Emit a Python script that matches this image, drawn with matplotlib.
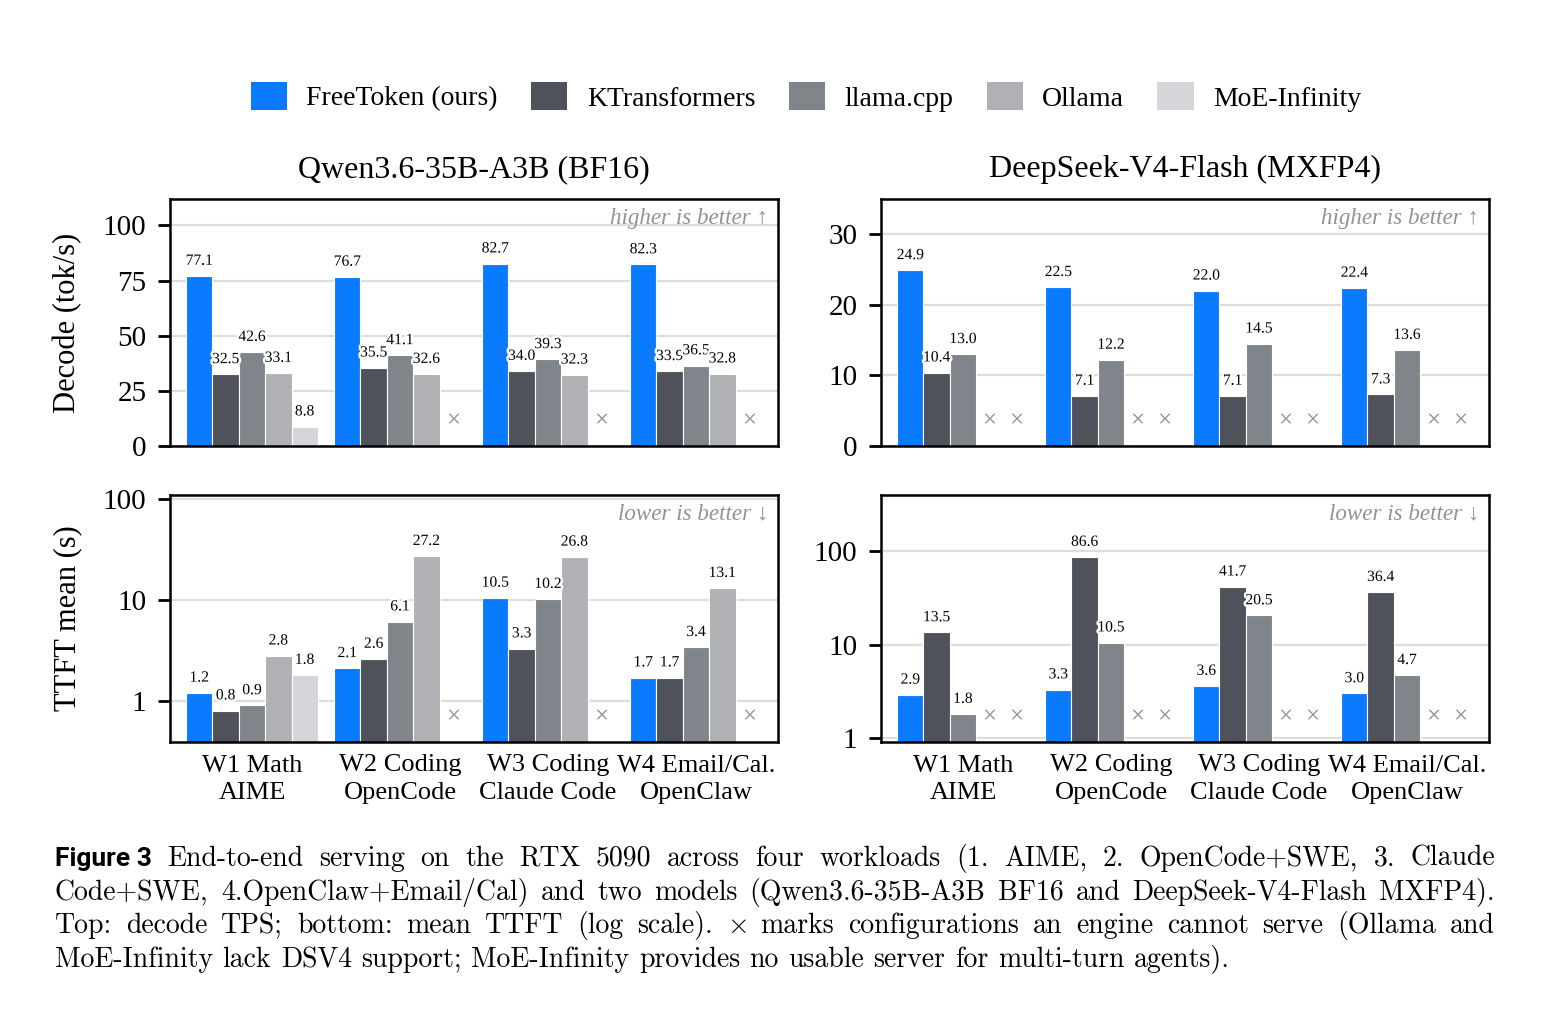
import numpy as np
import matplotlib.pyplot as plt
import matplotlib.transforms as mtrans
from matplotlib import patheffects
from matplotlib.patches import Patch

plt.rcParams['font.family'] = ['Liberation Serif', 'DejaVu Serif']
plt.rcParams['mathtext.fontset'] = 'cm'

engines = ['FreeToken (ours)', 'KTransformers', 'llama.cpp', 'Ollama', 'MoE-Infinity']
colors = ['#0A7AFF', '#4F525A', '#80848B', '#AFB1B5', '#D5D6DA']
workloads = ['W1 Math\nAIME', 'W2 Coding\nOpenCode', 'W3 Coding\nClaude Code', 'W4 Email/Cal.\nOpenClaw']

# one row per workload, one value per engine; None = engine cannot serve (x mark)
qwen_decode = [[77.1, 32.5, 42.6, 33.1, 8.8],
               [76.7, 35.5, 41.1, 32.6, None],
               [82.7, 34.0, 39.3, 32.3, None],
               [82.3, 33.9, 36.5, 32.8, None]]
dsv4_decode = [[24.9, 10.4, 13.0, None, None],
               [22.5, 7.1, 12.2, None, None],
               [22.0, 7.1, 14.5, None, None],
               [22.4, 7.3, 13.6, None, None]]
qwen_ttft = [[1.2, 0.8, 0.9, 2.8, 1.8],
             [2.1, 2.6, 6.1, 27.2, None],
             [10.5, 3.3, 10.2, 26.8, None],
             [1.7, 1.7, 3.4, 13.1, None]]
dsv4_ttft = [[2.9, 13.5, 1.8, None, None],
             [3.3, 86.6, 10.5, None, None],
             [3.6, 41.7, 20.5, None, None],
             [3.0, 36.4, 4.7, None, None]]

W, H = 1543, 1009
fig = plt.figure(figsize=(W / 200, H / 200), dpi=200)

ax_l, ax_r, ax_w = 170 / W, 881 / W, 608 / W
ax_h = 247 / H
axes = {
    'qd': fig.add_axes([ax_l, 1 - 446 / H, ax_w, ax_h]),
    'dd': fig.add_axes([ax_r, 1 - 446 / H, ax_w, ax_h]),
    'qt': fig.add_axes([ax_l, 1 - 742 / H, ax_w, ax_h]),
    'dt': fig.add_axes([ax_r, 1 - 742 / H, ax_w, ax_h]),
}

bw = 0.178
halo = [patheffects.withStroke(linewidth=1.8, foreground='white')]


def draw_panel(ax, data, base=0):
    trans = mtrans.blended_transform_factory(ax.transData, ax.transAxes)
    for g, row in enumerate(data):
        for i, v in enumerate(row):
            x = g + (i - 2) * bw
            if v is None:
                ax.text(x, 0.1, '×', transform=trans, ha='center', va='center',
                        fontsize=9, color='#8C8C8C')
                continue
            ax.bar(x, v - base, bw, bottom=base, color=colors[i],
                   edgecolor='white', linewidth=0.4, zorder=2)
            ax.annotate('%.1f' % v, (x, v), xytext=(0, 2.6), textcoords='offset points',
                        ha='center', va='bottom', fontsize=5.6, zorder=4,
                        path_effects=halo)
    ax.set_xlim(-0.554, 3.554)
    ax.grid(axis='y', color='#DEDED8', linewidth=0.8, zorder=0)
    ax.set_axisbelow(True)
    for s in ax.spines.values():
        s.set_linewidth(0.9)
    ax.tick_params(axis='y', direction='out', length=4.5, width=1.0, pad=4, labelsize=10.5)
    ax.tick_params(axis='x', length=0, pad=4.5, labelsize=9.5)
    ax.set_xticks(range(4))


draw_panel(axes['qd'], qwen_decode)
axes['qd'].set_ylim(0, 112)
axes['qd'].set_yticks([0, 25, 50, 75, 100])

draw_panel(axes['dd'], dsv4_decode)
axes['dd'].set_ylim(0, 35)
axes['dd'].set_yticks([0, 10, 20, 30])

for key, data, lo, hi in [('qt', qwen_ttft, 0.39, 110), ('dt', dsv4_ttft, 0.905, 400)]:
    ax = axes[key]
    ax.set_yscale('log')
    draw_panel(ax, data, base=lo / 2)
    ax.set_ylim(lo, hi)
    ax.set_yticks([1, 10, 100])
    ax.set_yticklabels(['1', '10', '100'])
    ax.yaxis.set_minor_locator(plt.NullLocator())

for key in ['qd', 'dd']:
    axes[key].set_xticklabels([])
    axes[key].text(0.984, 0.965, 'higher is better ↑', transform=axes[key].transAxes,
                   ha='right', va='top', fontsize=8.3, style='italic', color='#929292')
for key in ['qt', 'dt']:
    axes[key].set_xticklabels(workloads, linespacing=1.3)
    axes[key].text(0.984, 0.965, 'lower is better ↓', transform=axes[key].transAxes,
                   ha='right', va='top', fontsize=8.3, style='italic', color='#929292')

axes['qd'].set_title('Qwen3.6-35B-A3B (BF16)', fontsize=11.5, pad=8)
axes['dd'].set_title('DeepSeek-V4-Flash (MXFP4)', fontsize=11.5, pad=8)
axes['qd'].set_ylabel('Decode (tok/s)', fontsize=11)
axes['qt'].set_ylabel('TTFT mean (s)', fontsize=11)
axes['qd'].yaxis.set_label_coords(-0.145, 0.5)
axes['qt'].yaxis.set_label_coords(-0.145, 0.5)

handles = [Patch(facecolor=c, edgecolor='none') for c in colors]
fig.legend(handles, engines, ncol=5, loc='center', bbox_to_anchor=(806 / W, 1 - 97 / H),
           frameon=False, fontsize=10, handlelength=1.3, handleheight=1.15,
           handletextpad=0.7, columnspacing=1.2)

# caption, justified by hand
caption = [
    'End-to-end serving on the RTX 5090 across four workloads (1. AIME, 2. OpenCode+SWE, 3. Claude',
    'Code+SWE, 4.OpenClaw+Email/Cal) and two models (Qwen3.6-35B-A3B BF16 and DeepSeek-V4-Flash MXFP4).',
    'Top: decode TPS; bottom: mean TTFT (log scale). $\\times$ marks configurations an engine cannot serve (Ollama and',
    'MoE-Infinity lack DSV4 support; MoE-Infinity provides no usable server for multi-turn agents).',
]
baselines = [866, 900, 933, 967]
renderer = fig.canvas.get_renderer()
cap_font = dict(family=['cmr10', 'DejaVu Serif'], fontsize=10, va='baseline', ha='left')

for n, (line, yb) in enumerate(zip(caption, baselines)):
    texts = []
    if n == 0:
        texts.append(fig.text(0, 1 - yb / H, 'Figure 3', family='Roboto', weight='bold',
                              fontsize=9.5, va='baseline', ha='left'))
    for w in line.split(' '):
        texts.append(fig.text(0, 1 - yb / H, w, **cap_font))
    widths = [t.get_window_extent(renderer).width for t in texts]
    if n < len(caption) - 1:
        gap = (1495 - 55 - sum(widths)) / (len(texts) - 1)
    else:
        gap = 9.5
    x = 55
    for t, wd in zip(texts, widths):
        t.set_x(x / W)
        x += wd + gap

fig.savefig('out.png', dpi=200)
